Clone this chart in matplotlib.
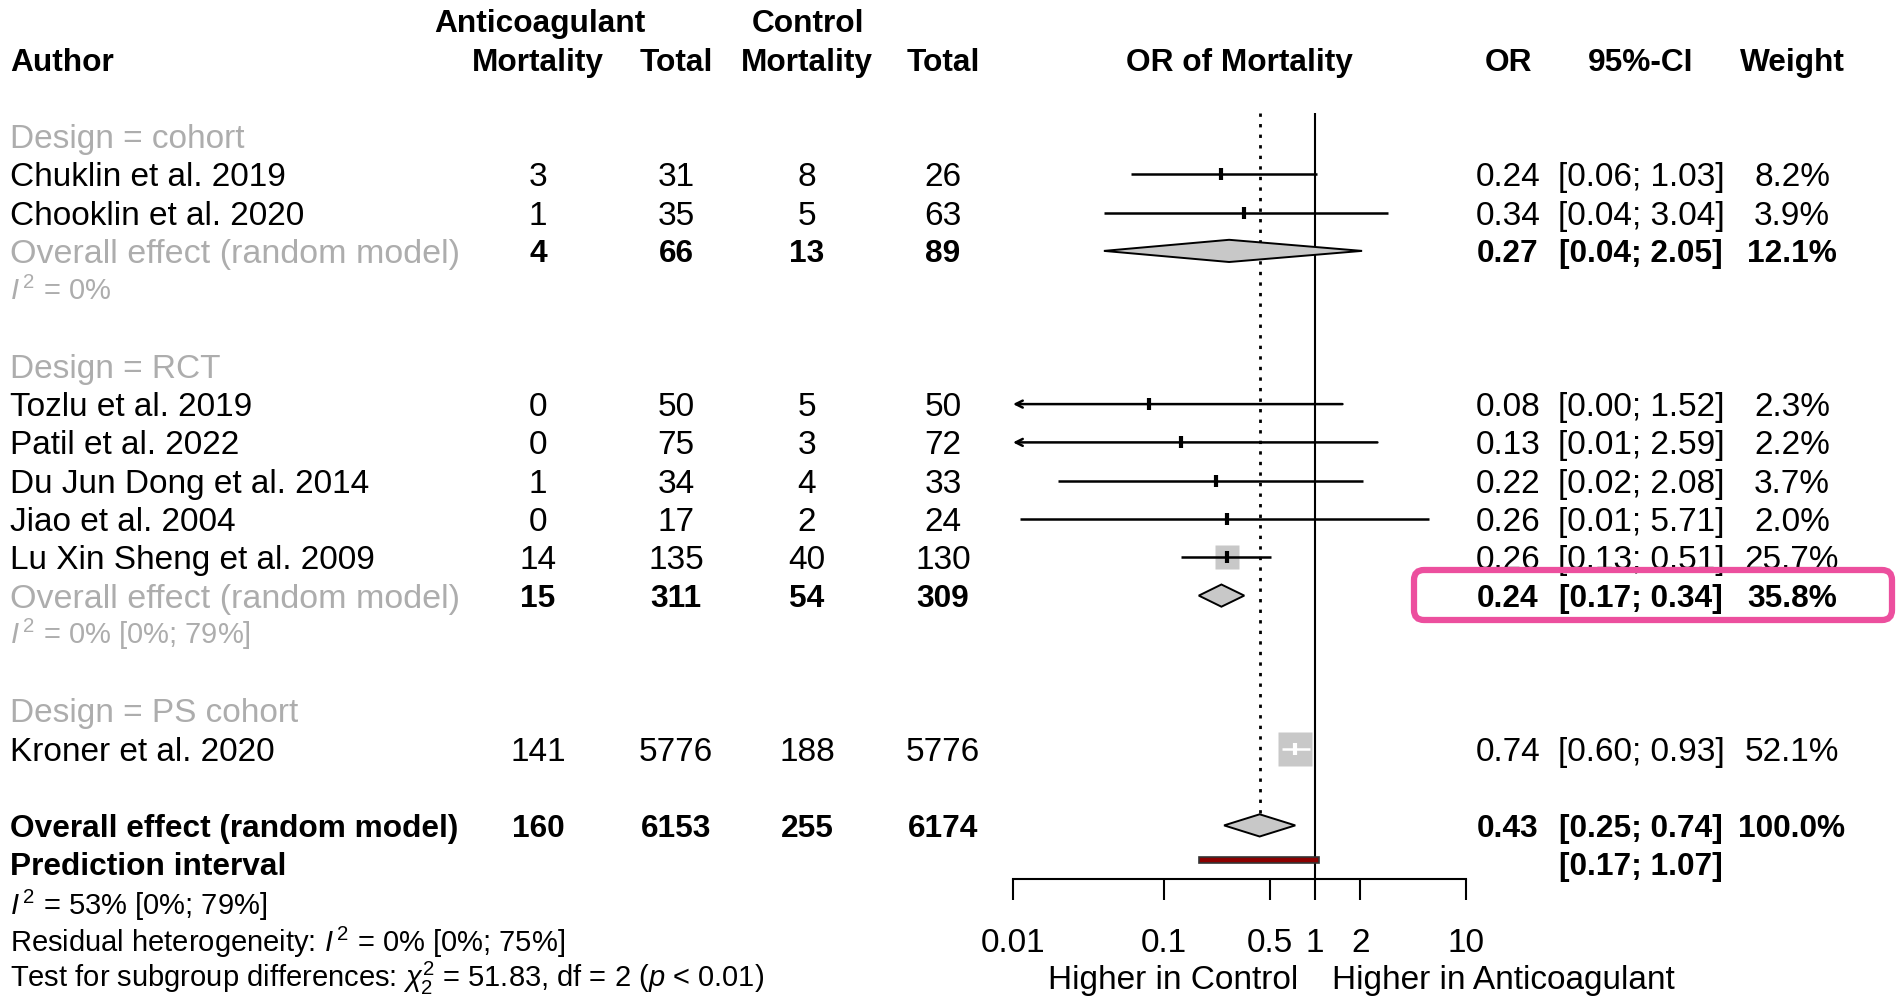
import numpy as np
import matplotlib
matplotlib.use('Agg')
import matplotlib.pyplot as plt
from matplotlib.patches import FancyBboxPatch
from matplotlib.transforms import IdentityTransform, blended_transform_factory

plt.rcParams['font.family'] = ['Liberation Sans', 'DejaVu Sans']
plt.rcParams['mathtext.fontset'] = 'custom'
plt.rcParams['mathtext.rm'] = 'Liberation Sans'
plt.rcParams['mathtext.it'] = 'Liberation Sans:italic'
plt.rcParams['mathtext.bf'] = 'Liberation Sans:bold'

# ---------------- data ----------------
group_labels = ['Design = cohort', 'Design = RCT', 'Design = PS cohort']
study_names = ['Chuklin et al. 2019', 'Chooklin et al. 2020', 'Tozlu et al. 2019',
               'Patil et al. 2022', 'Du Jun Dong et al. 2014', 'Jiao et al. 2004',
               'Lu Xin Sheng et al. 2009', 'Kroner et al. 2020']
study_group = [0, 0, 1, 1, 1, 1, 1, 2]
ev_anticoag = [3, 1, 0, 0, 1, 0, 14, 141]
n_anticoag = [31, 35, 50, 75, 34, 17, 135, 5776]
ev_control = [8, 5, 5, 3, 4, 2, 40, 188]
n_control = [26, 63, 50, 72, 33, 24, 130, 5776]
or_est = [0.24, 0.34, 0.08, 0.13, 0.22, 0.26, 0.26, 0.74]
or_lower = [0.06, 0.04, 0.004, 0.007, 0.02, 0.0112, 0.13, 0.60]
or_upper = [1.03, 3.04, 1.52, 2.59, 2.08, 5.71, 0.51, 0.93]
weight = [8.2, 3.9, 2.3, 2.2, 3.7, 2.0, 25.7, 52.1]

sub_groups = [0, 1]
sub_ev_anticoag = [4, 15]
sub_n_anticoag = [66, 311]
sub_ev_control = [13, 54]
sub_n_control = [89, 309]
sub_or_est = [0.27, 0.24]
sub_or_lower = [0.04, 0.17]
sub_or_upper = [2.05, 0.34]
sub_weight = [12.1, 35.8]
sub_i2 = ['0%', '0% [0%; 79%]']

overall_counts = [160, 6153, 255, 6174]
overall_or = [0.43, 0.25, 0.74]
overall_weight = 100.0
pred_interval = [0.17, 1.07]
het_i2 = '53% [0%; 79%]'
resid_i2 = '0% [0%; 75%]'
subgroup_test = ['51.83', '2', '< 0.01']

tick_values = [0.01, 0.1, 0.5, 1, 2, 10]
tick_labels = ['0.01', '0.1', '0.5', '1', '2', '10']

# ---------------- layout ----------------
FIG_W, FIG_H = 1902, 1007
ROW_H = 38.3
ROW1_PX = 136.0


def row_of(px):
    return 1 + (px - ROW1_PX) / ROW_H


GREY = '#ADADAD'
SQ = '#C8C8C8'
FS = 24
FS_BOLD = 22.8
FS_GREY_OVERALL = 24.5
FS_SMALL = 21

fig = plt.figure(figsize=(FIG_W / 100, FIG_H / 100), dpi=100)
ylim = (row_of(FIG_H), row_of(0))
ax_t = fig.add_axes([0, 0, 1, 1])
ax_t.set_xlim(0, FIG_W)
ax_t.set_ylim(*ylim)
ax_t.axis('off')

ax_f = fig.add_axes([1013 / FIG_W, 0, 453 / FIG_W, 1])
ax_f.set_xscale('log')
ax_f.set_xlim(0.01, 10)
ax_f.set_ylim(*ylim)
ax_f.patch.set_alpha(0)
for s in ['top', 'left', 'right']:
    ax_f.spines[s].set_visible(False)
ax_f.yaxis.set_visible(False)


def base_off(fs):
    return 0.358 * fs * 100 / 72 / ROW_H


def put(x, row, s, fs=None, weight='normal', color='black', ha='center'):
    if fs is None:
        fs = FS_BOLD if weight == 'bold' else FS
    ax_t.text(x, row + base_off(fs), s, fontsize=fs, fontweight=weight, color=color,
              ha=ha, va='baseline')


X_NAME = 10
X_COLS = [538, 676, 807, 943]
X_OR, X_CI, X_W = 1508, 1641, 1792

# headers
put(540, -2, 'Anticoagulant', weight='bold')
put(808, -2, 'Control', weight='bold')
put(X_NAME, -1, 'Author', weight='bold', ha='left')
for x, h in zip(X_COLS, ['Mortality', 'Total', 'Mortality', 'Total']):
    put(x, -1, h, weight='bold')
put(X_OR, -1, 'OR', weight='bold')
put(X_CI, -1, '95%-CI', weight='bold')
put(X_W, -1, 'Weight', weight='bold')
tr_head = blended_transform_factory(ax_f.transAxes, ax_f.transData)
ax_f.text(0.5, -1 + base_off(FS_BOLD), 'OR of Mortality', transform=tr_head,
          fontsize=FS_BOLD, fontweight='bold', ha='center', va='baseline')

# rows
study_rows = [None] * len(study_names)
header_rows, sub_rows, i2_rows = [], [], []
r = 1
for g in range(len(group_labels)):
    header_rows.append(r)
    r += 1
    for i, sg in enumerate(study_group):
        if sg == g:
            study_rows[i] = r
            r += 1
    if g in sub_groups:
        sub_rows.append(r)
        r += 1
        i2_rows.append(r)
        r += 1
    r += 1
overall_row = r
pred_row = r + 1


def fmt_ci(lo, hi):
    return f'[{lo:.2f}; {hi:.2f}]'


for g, rr in enumerate(header_rows):
    put(X_NAME, rr, group_labels[g], color=GREY, ha='left')

for i, name in enumerate(study_names):
    rr = study_rows[i]
    put(X_NAME, rr, name, ha='left')
    for x, v in zip(X_COLS, [ev_anticoag[i], n_anticoag[i], ev_control[i], n_control[i]]):
        put(x, rr, str(v))
    put(X_OR, rr, f'{or_est[i]:.2f}')
    put(X_CI, rr, fmt_ci(or_lower[i], or_upper[i]))
    put(X_W, rr, f'{weight[i]:.1f}%')

for k, g in enumerate(sub_groups):
    rr = sub_rows[k]
    put(X_NAME, rr, 'Overall effect (random model)', fs=FS_GREY_OVERALL, color=GREY, ha='left')
    for x, v in zip(X_COLS, [sub_ev_anticoag[k], sub_n_anticoag[k], sub_ev_control[k], sub_n_control[k]]):
        put(x, rr, str(v), weight='bold')
    put(X_OR, rr, f'{sub_or_est[k]:.2f}', weight='bold')
    put(X_CI, rr, fmt_ci(sub_or_lower[k], sub_or_upper[k]), weight='bold')
    put(X_W, rr, f'{sub_weight[k]:.1f}%', weight='bold')
    put(X_NAME, i2_rows[k], r'$\mathit{I}^{\,2}$ = ' + sub_i2[k], fs=FS_SMALL, color=GREY, ha='left')

put(X_NAME, overall_row, 'Overall effect (random model)', weight='bold', ha='left')
for x, v in zip(X_COLS, overall_counts):
    put(x, overall_row, str(v), weight='bold')
put(X_OR, overall_row, f'{overall_or[0]:.2f}', weight='bold')
put(X_CI, overall_row, fmt_ci(overall_or[1], overall_or[2]), weight='bold')
put(X_W, overall_row, f'{overall_weight:.1f}%', weight='bold')
put(X_NAME, pred_row, 'Prediction interval', weight='bold', ha='left')
put(X_CI, pred_row, fmt_ci(*pred_interval), weight='bold')

put(X_NAME, row_of(905), r'$\mathit{I}^{\,2}$ = ' + het_i2, fs=FS_SMALL, ha='left')
put(X_NAME, row_of(942), r'Residual heterogeneity: $\mathit{I}^{\,2}$ = ' + resid_i2, fs=FS_SMALL, ha='left')
put(X_NAME, row_of(977),
    r'Test for subgroup differences: $\chi^2_2$ = ' + subgroup_test[0] + ', df = ' + subgroup_test[1]
    + r' ($\mathit{p}$ ' + subgroup_test[2] + ')', fs=FS_SMALL, ha='left')

# ---------------- forest ----------------
xmin = ax_f.get_xlim()[0]
top_row = row_of(113)
axis_row = row_of(879)
dia_h = 0.29
CI_LW = 1.8

ax_f.vlines(1, top_row, axis_row, color='black', lw=1.5, zorder=2)
ax_f.plot([overall_or[0], overall_or[0]], [top_row, overall_row - dia_h], color='black',
          lw=2.0, linestyle=(0, (1.2, 2.6)), zorder=2)

wmax = max(weight)
MIN_SIDE = 15
for i in range(len(study_names)):
    rr = study_rows[i]
    side = 34 * np.sqrt(weight[i] / wmax)
    drawn = side >= MIN_SIDE
    if drawn:
        ax_f.plot(or_est[i], rr, marker='s', ms=side * 0.72, color=SQ, mec='none', zorder=3,
                  linestyle='none')
    lo_d = ax_f.transData.transform((max(or_lower[i], xmin), rr))[0]
    hi_d = ax_f.transData.transform((or_upper[i], rr))[0]
    col = 'white' if (drawn and (hi_d - lo_d) < side) else 'black'
    if or_lower[i] < xmin:
        ax_f.annotate('', xy=(xmin, rr), xytext=(or_upper[i], rr),
                      arrowprops=dict(arrowstyle='->,head_length=0.5,head_width=0.25',
                                      color=col, lw=CI_LW, shrinkA=0, shrinkB=0),
                      annotation_clip=False, zorder=4)
    else:
        ax_f.hlines(rr, or_lower[i], or_upper[i], color=col, lw=CI_LW, zorder=4)
    ax_f.plot(or_est[i], rr, marker='|', ms=9, mew=3, color=col, zorder=5, linestyle='none')

for k in range(len(sub_groups)):
    rr = sub_rows[k]
    ax_f.fill([sub_or_lower[k], sub_or_est[k], sub_or_upper[k], sub_or_est[k]],
              [rr, rr - dia_h, rr, rr + dia_h], facecolor=SQ, edgecolor='black', lw=1.4, zorder=4)

ax_f.fill([overall_or[1], overall_or[0], overall_or[2], overall_or[0]],
          [overall_row, overall_row - dia_h, overall_row, overall_row + dia_h],
          facecolor=SQ, edgecolor='black', lw=1.4, zorder=4)

pr = row_of(860)
ax_f.fill([pred_interval[0], pred_interval[1], pred_interval[1], pred_interval[0]],
          [pr - 0.085, pr - 0.085, pr + 0.085, pr + 0.085],
          facecolor='#8B0000', edgecolor='#333333', lw=1.2, zorder=4)

# x axis
ax_f.spines['bottom'].set_position(('data', axis_row))
ax_f.spines['bottom'].set_bounds(tick_values[0], tick_values[-1])
ax_f.spines['bottom'].set_linewidth(1.5)
ax_f.set_xticks(tick_values)
ax_f.set_xticklabels(tick_labels)
ax_f.xaxis.set_minor_locator(matplotlib.ticker.NullLocator())
ax_f.tick_params(axis='x', direction='out', length=15, width=1.5, labelsize=FS, pad=20)

lab_row = row_of(977) + base_off(FS)
ax_f.annotate('Higher in Control', xy=(1, lab_row), xytext=(-12, 0), textcoords='offset points',
              ha='right', va='baseline', fontsize=FS, annotation_clip=False)
ax_f.annotate('Higher in Anticoagulant', xy=(1, lab_row), xytext=(12, 0), textcoords='offset points',
              ha='left', va='baseline', fontsize=FS, annotation_clip=False)

# highlight box
box = FancyBboxPatch((1414, FIG_H - 620), 478, 50, boxstyle='round,pad=0,rounding_size=10',
                     transform=IdentityTransform(), facecolor='none', edgecolor='#EC4F9E',
                     lw=4.5, zorder=10)
fig.patches.append(box)

fig.savefig('out.png', dpi=100)
